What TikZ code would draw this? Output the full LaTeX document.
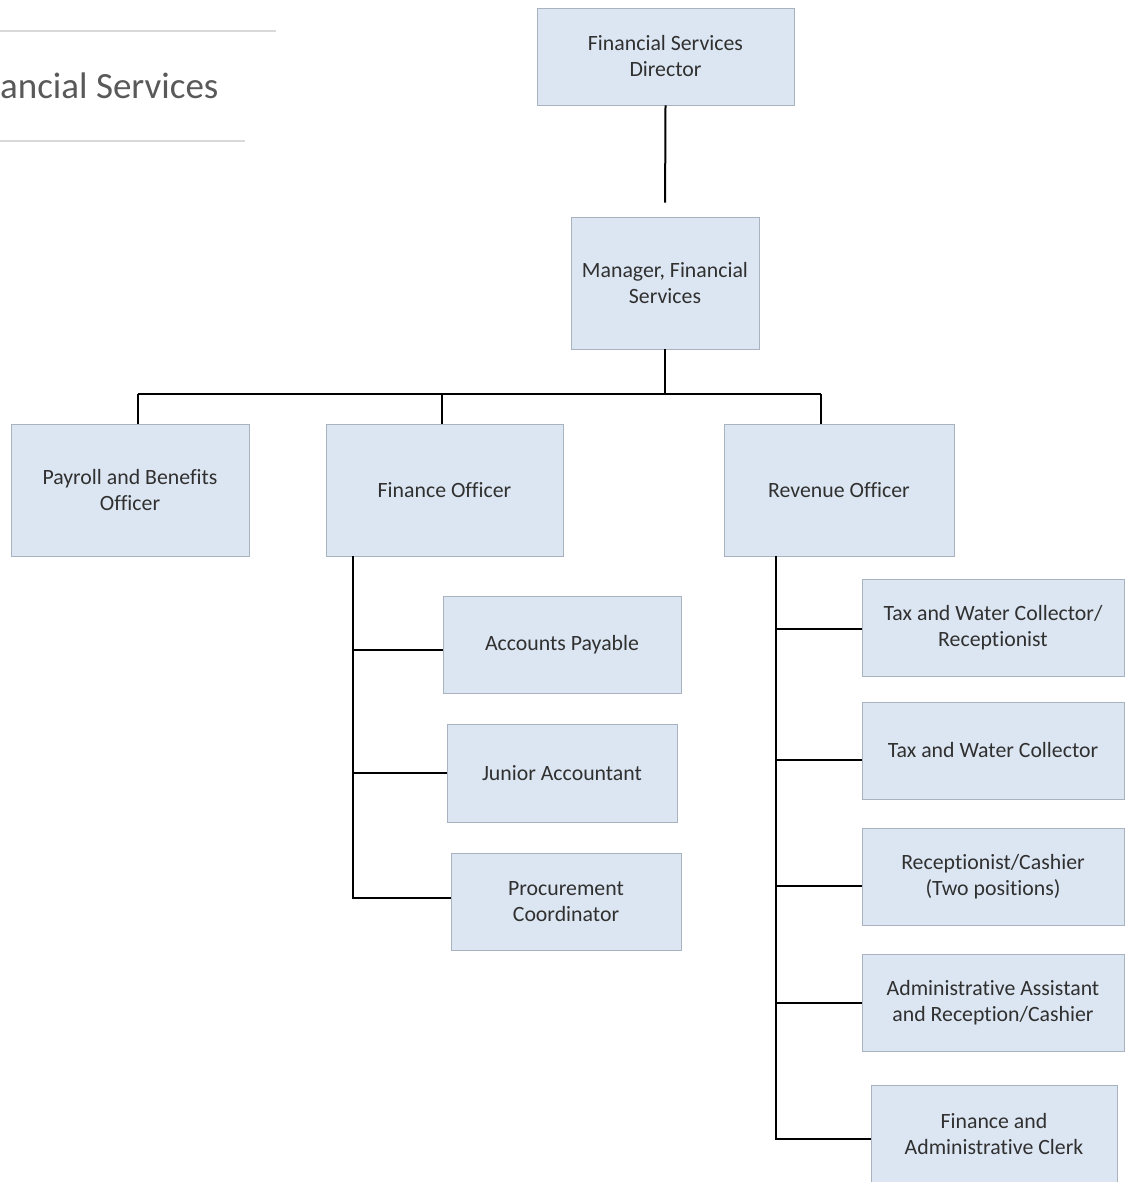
\documentclass[tikz,border=0pt]{standalone}
\usepackage{fontspec}
\setmainfont{Carlito}[Ligatures=NoCommon]
\definecolor{boxfill}{HTML}{DCE6F2}
\definecolor{boxdraw}{HTML}{A9B3C0}
\definecolor{txt}{HTML}{303030}
\definecolor{rule}{HTML}{D9D9D9}
\begin{document}
\begin{tikzpicture}[x=1pt,y=-1pt,
  orgbox/.style={draw=boxdraw, line width=0.9pt, fill=boxfill, text=txt, align=center,
    font=\fontsize{21.8}{26}\selectfont, inner sep=0pt},
  link/.style={draw=black, line width=2pt}]
\useasboundingbox (0,0) rectangle (1125,1182);
% title
\draw[rule, line width=2pt] (0,31) -- (276,31);
\draw[rule, line width=2pt] (0,141) -- (245,141);
\node[anchor=base west, inner sep=0pt, text=black!65, font=\fontsize{37}{40}\selectfont] (title) at (0,99) {ancial Services};
% boxes
\node[orgbox, minimum width=257pt, minimum height=97pt] (dir) at (665.5,56.5) {Financial Services\\Director};
\node[orgbox, minimum width=188pt, minimum height=132pt] (mgr) at (665,283) {Manager, Financial\\Services};
\node[orgbox, minimum width=238pt, minimum height=132pt] (pay) at (130,490) {Payroll and Benefits\\Officer};
\node[orgbox, minimum width=237pt, minimum height=132pt] (fin) at (444.5,490) {Finance Officer};
\node[orgbox, minimum width=230pt, minimum height=132pt] (rev) at (839,490) {Revenue Officer};
\node[orgbox, minimum width=238pt, minimum height=97pt] (ap) at (562,644.5) {Accounts Payable};
\node[orgbox, minimum width=230pt, minimum height=98pt] (ja) at (562,773) {Junior Accountant};
\node[orgbox, minimum width=230pt, minimum height=97pt] (pc) at (566,901.5) {Procurement\\Coordinator};
\node[orgbox, minimum width=262pt, minimum height=97pt] (tw1) at (993,627.5) {Tax and Water Collector/\\Receptionist};
\node[orgbox, minimum width=262pt, minimum height=97pt] (tw2) at (993,750.5) {Tax and Water Collector};
\node[orgbox, minimum width=262pt, minimum height=97pt] (rc) at (993,876.5) {Receptionist/Cashier\\(Two positions)};
\node[orgbox, minimum width=262pt, minimum height=97pt] (aa) at (993,1002.5) {Administrative Assistant\\and Reception/Cashier};
\node[orgbox, minimum width=246pt, minimum height=98pt] (fc) at (994,1134) {Finance and\\Administrative Clerk};
% connectors
\draw[link, shorten >=14pt] (dir.south) -- (mgr.north);
\coordinate (bus) at (665,394);
\coordinate (busL) at (138,394);
\coordinate (busM) at (442,394);
\coordinate (busR) at (821,394);
\draw[link] (mgr.south) -- (bus);
\draw[link] (busL) -- (busR);
\draw[link] (busL) -- (busL |- pay.north);
\draw[link] (busM) -- (busM |- fin.north);
\draw[link] (busR) -- (busR |- rev.north);
% finance officer branch
\coordinate (fv) at (353,898);
\draw[link] (fv |- fin.south) -- (fv) -- (fv -| pc.west);
\coordinate (f1) at (353,650);
\draw[link] (f1) -- (f1 -| ap.west);
\draw[link] (fv |- ja.west) -- (ja.west);
% revenue officer branch
\coordinate (rv) at (776,1139);
\draw[link] (rv |- rev.south) -- (rv) -- (rv -| fc.west);
\coordinate (b1) at (776,629);
\draw[link] (b1) -- (b1 -| tw1.west);
\coordinate (b2) at (776,760);
\draw[link] (b2) -- (b2 -| tw2.west);
\coordinate (b3) at (776,886);
\draw[link] (b3) -- (b3 -| rc.west);
\draw[link] (rv |- aa.west) -- (aa.west);
\end{tikzpicture}
\end{document}
